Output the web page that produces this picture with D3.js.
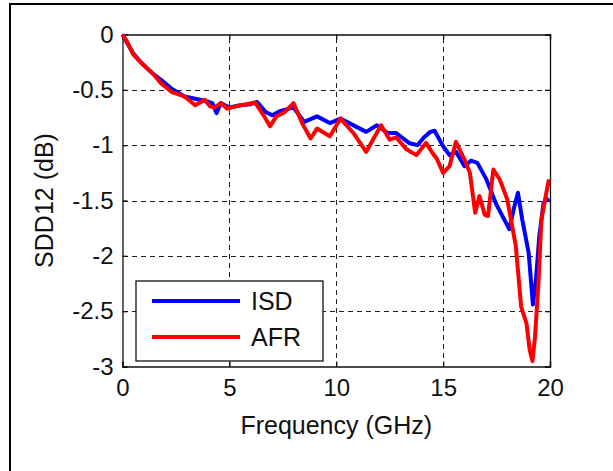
<!DOCTYPE html>
<html>
<head>
<meta charset="utf-8">
<script src="https://cdn.jsdelivr.net/npm/d3@7"></script>
<style>
  html, body { margin: 0; padding: 0; background: #fff; }
  svg { display: block; }
  text { font-family: "Liberation Sans", Arial, sans-serif; fill: #111; }
</style>
</head>
<body>
<svg id="chart" width="613" height="471"></svg>
<script>
// Differential insertion loss SDD12 versus frequency, two de-embedding methods
const isdFreq = [0, 0.2, 0.5, 0.9, 1.4, 1.8, 2.3, 2.9, 3.4, 3.9, 4.2, 4.4, 4.6, 5.0, 5.5, 6.0, 6.3, 6.7, 7.0, 7.4, 7.8, 8.0, 8.5, 9.1, 9.7, 10.2, 10.9, 11.4, 11.9, 12.4, 12.8, 13.4, 13.8, 14.1, 14.4, 14.6, 15.0, 15.3, 15.6, 16.0, 16.3, 16.6, 17.0, 17.5, 18.1, 18.3, 18.5, 18.7, 19.0, 19.2, 19.35, 19.5, 19.7, 19.95];
const isdValues = [0, -0.07, -0.17, -0.26, -0.35, -0.41, -0.49, -0.56, -0.58, -0.60, -0.62, -0.71, -0.62, -0.66, -0.64, -0.63, -0.61, -0.70, -0.73, -0.69, -0.67, -0.66, -0.79, -0.74, -0.80, -0.76, -0.83, -0.88, -0.82, -0.89, -0.89, -0.98, -1.00, -0.93, -0.88, -0.87, -1.01, -1.09, -1.06, -1.19, -1.14, -1.16, -1.30, -1.54, -1.76, -1.58, -1.43, -1.67, -1.97, -2.44, -2.20, -1.82, -1.52, -1.48];

const afrFreq = [0, 0.2, 0.5, 0.9, 1.4, 1.8, 2.3, 2.9, 3.4, 3.85, 4.1, 4.3, 4.6, 4.9, 5.4, 5.8, 6.2, 6.6, 6.9, 7.2, 7.6, 8.0, 8.4, 8.8, 9.1, 9.7, 10.2, 10.8, 11.4, 12.1, 12.5, 12.8, 13.3, 13.75, 14.2, 14.5, 14.7, 15.0, 15.3, 15.6, 16.0, 16.25, 16.5, 16.7, 16.95, 17.1, 17.35, 17.65, 18.0, 18.4, 18.65, 18.9, 19.05, 19.18, 19.3, 19.45, 19.6, 19.77, 19.95];
const afrValues = [0, -0.06, -0.18, -0.26, -0.35, -0.44, -0.52, -0.56, -0.64, -0.59, -0.65, -0.66, -0.62, -0.67, -0.645, -0.63, -0.615, -0.73, -0.83, -0.74, -0.70, -0.62, -0.80, -0.94, -0.85, -0.92, -0.76, -0.89, -1.06, -0.82, -0.95, -0.93, -1.04, -1.09, -0.98, -1.07, -1.12, -1.25, -1.19, -0.97, -1.13, -1.25, -1.61, -1.46, -1.63, -1.64, -1.22, -1.31, -1.49, -1.91, -2.46, -2.61, -2.85, -2.95, -2.73, -2.28, -1.67, -1.49, -1.31];

const xTicks = [0, 5, 10, 15, 20];
const yTicks = [0, -0.5, -1, -1.5, -2, -2.5, -3];
const seriesNames = ["ISD", "AFR"];
const seriesColors = ["#0000ff", "#ff0000"];

const svg = d3.select("#chart");
const plot = { left: 122.5, right: 550, top: 34.5, bottom: 366.5 };

const x = d3.scaleLinear().domain([0, 20]).range([plot.left, plot.right]);
const y = d3.scaleLinear().domain([-3, 0]).range([plot.bottom, plot.top]);

// outer figure frame (left and top edges)
svg.append("path")
  .attr("d", "M10,471 V4 H613")
  .attr("fill", "none").attr("stroke", "#000").attr("stroke-width", 2);

// dashed grid
const grid = svg.append("g").attr("stroke", "#222").attr("stroke-width", 1.2)
  .attr("stroke-dasharray", "5,4").attr("shape-rendering", "crispEdges");
grid.selectAll("line.gx").data(xTicks.slice(1, -1)).join("line")
  .attr("x1", d => Math.round(x(d)) + 0.5).attr("x2", d => Math.round(x(d)) + 0.5)
  .attr("y1", plot.bottom).attr("y2", plot.top);
grid.selectAll("line.gy").data(yTicks.slice(1, -1)).join("line")
  .attr("y1", d => Math.round(y(d)) + 0.5).attr("y2", d => Math.round(y(d)) + 0.5)
  .attr("x1", plot.left).attr("x2", plot.right);

// axes with inward ticks on all four sides
const fmt = d => String(d);
const axB = svg.append("g").attr("transform", `translate(0,${plot.bottom})`)
  .call(d3.axisBottom(x).tickValues(xTicks).tickFormat(fmt).tickSize(-5).tickPadding(12));
const axT = svg.append("g").attr("transform", `translate(0,${plot.top})`)
  .call(d3.axisTop(x).tickValues(xTicks).tickFormat("").tickSize(-5));
const axL = svg.append("g").attr("transform", `translate(${plot.left},0)`)
  .call(d3.axisLeft(y).tickValues(yTicks).tickFormat(fmt).tickSize(-5).tickPadding(9));
const axR = svg.append("g").attr("transform", `translate(${plot.right},0)`)
  .call(d3.axisRight(y).tickValues(yTicks).tickFormat("").tickSize(-5));
[axB, axT, axL, axR].forEach(a => {
  a.select(".domain").attr("stroke", "#111").attr("stroke-width", 1.3);
  a.selectAll(".tick line").attr("stroke", "#111").attr("stroke-width", 1.3);
  a.selectAll("text").attr("font-size", 24).attr("fill", "#111")
    .attr("font-family", "Liberation Sans, Arial, sans-serif");
});

// data curves
const line = d3.line().x(d => x(d[0])).y(d => y(d[1]));
const isd = isdFreq.map((f, i) => [f, isdValues[i]]);
const afr = afrFreq.map((f, i) => [f, afrValues[i]]);
[isd, afr].forEach((s, i) => {
  svg.append("path").datum(s).attr("d", line)
    .attr("fill", "none").attr("stroke", seriesColors[i])
    .attr("stroke-width", 4).attr("stroke-linejoin", "round");
});

// axis titles
svg.append("text").attr("x", (plot.left + plot.right) / 2).attr("y", 434)
  .attr("text-anchor", "middle").attr("font-size", 25).text("Frequency (GHz)");
svg.append("text").attr("transform", `translate(53,${(plot.top + plot.bottom) / 2}) rotate(-90)`)
  .attr("text-anchor", "middle").attr("font-size", 25).text("SDD12 (dB)");

// legend
const lg = svg.append("g");
lg.append("rect").attr("x", 136).attr("y", 281).attr("width", 187).attr("height", 80)
  .attr("fill", "#fff").attr("stroke", "#111").attr("stroke-width", 1.3);
seriesNames.forEach((name, i) => {
  const yy = 301 + i * 36;
  lg.append("line").attr("x1", 152).attr("x2", 240).attr("y1", yy).attr("y2", yy)
    .attr("stroke", seriesColors[i]).attr("stroke-width", 4);
  lg.append("text").attr("x", 251).attr("y", yy + 9).attr("font-size", 25).text(name);
});
</script>
</body>
</html>
